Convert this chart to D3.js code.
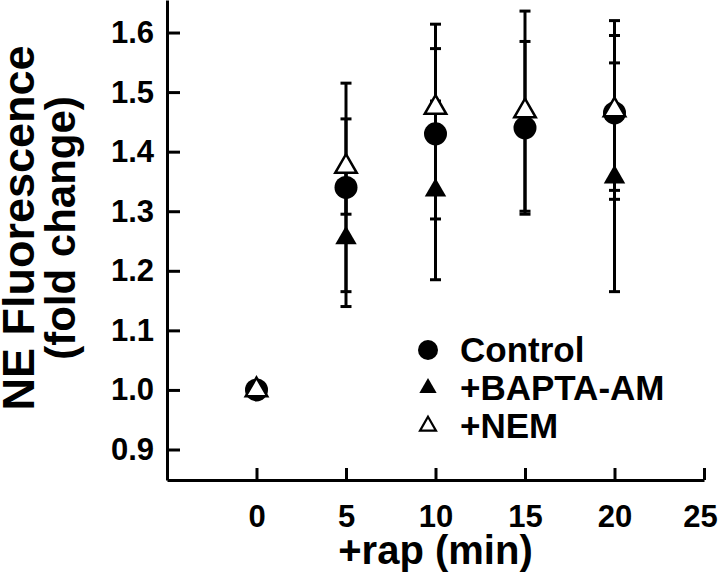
<!DOCTYPE html>
<html>
<head>
<meta charset="utf-8">
<script src="https://cdn.jsdelivr.net/npm/d3@7"></script>
<style>
  body { margin: 0; background: #fff; }
  text { font-family: "Liberation Sans", Arial, Helvetica, sans-serif; font-weight: bold; fill: #000; }
</style>
</head>
<body>
<div id="chart"></div>
<script>
// Values (fold change vs minutes after rapamycin)
const controlTimes = [0, 5, 10, 15, 20];
const controlMean = [1.0, 1.34, 1.43, 1.44, 1.465];
const controlErr = [0, 0.175, 0.143, 0.145, 0.13];

const baptaTimes = [0, 5, 10, 20];
const baptaMean = [1.0, 1.255, 1.335, 1.357];
const baptaErr = [0, 0.115, 0.15, 0.192];

const nemTimes = [0, 5, 10, 15, 20];
const nemMean = [1.0, 1.375, 1.474, 1.468, 1.47];
const nemErr = [0, 0.08, 0.14, 0.168, 0.15];

const xTicks = [0, 5, 10, 15, 20, 25];
const yTicks = [0.9, 1.0, 1.1, 1.2, 1.3, 1.4, 1.5, 1.6];
const legendLabels = ['Control', '+BAPTA-AM', '+NEM'];

const width = 720, height = 580;

const svg = d3.select('#chart')
  .append('svg')
  .attr('width', width)
  .attr('height', height);

const x = d3.scaleLinear().domain([-5, 25]).range([167, 704]);
const y = d3.scaleLinear().domain([0.8488, 1.6546]).range([480, 0]);

// series table built from the arrays above
const series = [
  { name: 'control', times: controlTimes, mean: controlMean, err: controlErr },
  { name: 'bapta', times: baptaTimes, mean: baptaMean, err: baptaErr },
  { name: 'nem', times: nemTimes, mean: nemMean, err: nemErr }
];

const circleSym = d3.symbol().type(d3.symbolCircle).size(Math.PI * 11.5 * 11.5);
const triSym = d3.symbol().type(d3.symbolTriangle).size(200);

// axes, ticks point inward
const xAxis = svg.append('g')
  .attr('transform', 'translate(0,480)')
  .call(d3.axisBottom(x).tickValues(xTicks).tickSize(-12).tickSizeOuter(0).tickPadding(25).tickFormat(d3.format('d')));
const yAxis = svg.append('g')
  .attr('transform', 'translate(167,0)')
  .call(d3.axisLeft(y).tickValues(yTicks).tickSize(-13).tickSizeOuter(0).tickPadding(13).tickFormat(d3.format('.1f')));

[xAxis, yAxis].forEach(a => {
  a.select('.domain').attr('stroke-width', 3);
  a.selectAll('.tick line').attr('stroke-width', 3);
  a.selectAll('.tick text').style('font-size', '31px').attr('fill', '#000');
});
// last label sits a little left so it stays on the page
xAxis.selectAll('.tick text').filter(d => d === 25).attr('dx', -4);

// error bars
const capW = 5.5;
series.forEach(s => {
  const g = svg.append('g');
  s.times.forEach((t, i) => {
    if (s.err[i] === 0) return;
    const lo = s.mean[i] - s.err[i], hi = s.mean[i] + s.err[i];
    g.append('line')
      .attr('x1', x(t)).attr('x2', x(t))
      .attr('y1', y(lo)).attr('y2', y(hi))
      .attr('stroke', '#000').attr('stroke-width', 3);
    [lo, hi].forEach(v => {
      g.append('line')
        .attr('x1', x(t) - capW).attr('x2', x(t) + capW)
        .attr('y1', y(v)).attr('y2', y(v))
        .attr('stroke', '#000').attr('stroke-width', 3);
    });
  });
});

// markers
svg.append('g').selectAll('path')
  .data(controlTimes.map((t, i) => [t, controlMean[i]]))
  .enter().append('path')
  .attr('d', circleSym)
  .attr('transform', d => `translate(${x(d[0])},${y(d[1])})`)
  .attr('fill', '#000');

svg.append('g').selectAll('path')
  .data(baptaTimes.map((t, i) => [t, baptaMean[i]]))
  .enter().append('path')
  .attr('d', triSym)
  .attr('transform', d => `translate(${x(d[0])},${y(d[1])})`)
  .attr('fill', '#000');

svg.append('g').selectAll('path')
  .data(nemTimes.map((t, i) => [t, nemMean[i]]))
  .enter().append('path')
  .attr('d', triSym)
  .attr('transform', d => `translate(${x(d[0])},${y(d[1])})`)
  .attr('fill', '#fff').attr('stroke', '#000').attr('stroke-width', 2.5);

// legend
const legend = svg.append('g').attr('transform', 'translate(428,350)');
const legendSyms = [
  { sym: d3.symbol().type(d3.symbolCircle).size(Math.PI * 100), fill: '#000', stroke: 'none' },
  { sym: d3.symbol().type(d3.symbolTriangle).size(130), fill: '#000', stroke: 'none' },
  { sym: d3.symbol().type(d3.symbolTriangle).size(110), fill: '#fff', stroke: '#000' }
];
legendLabels.forEach((lab, i) => {
  const row = legend.append('g').attr('transform', `translate(0,${i * 38})`);
  row.append('path')
    .attr('d', legendSyms[i].sym)
    .attr('fill', legendSyms[i].fill)
    .attr('stroke', legendSyms[i].stroke)
    .attr('stroke-width', 2.2);
  row.append('text')
    .attr('x', 32).attr('y', 12)
    .style('font-size', '35px')
    .text(lab);
});

// axis titles
svg.append('text')
  .attr('x', (x.range()[0] + x.range()[1]) / 2)
  .attr('y', 564)
  .attr('text-anchor', 'middle')
  .style('font-size', '40px')
  .text('+rap (min)');

const yt = svg.append('g').attr('transform', 'translate(0,228) rotate(-90)');
yt.append('text').attr('x', 0).attr('y', 34).attr('text-anchor', 'middle')
  .style('font-size', '45px').text('NE Fluorescence');
yt.append('text').attr('x', 0).attr('y', 75).attr('text-anchor', 'middle')
  .style('font-size', '42px').text('(fold change)');
</script>
</body>
</html>
